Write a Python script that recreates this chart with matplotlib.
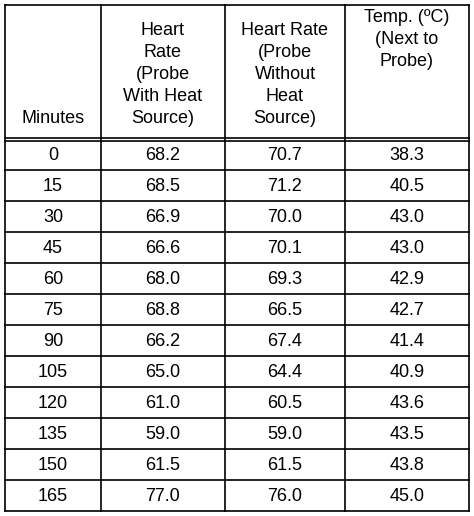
import matplotlib.pyplot as plt

plt.rcParams['font.family'] = ['Liberation Sans', 'DejaVu Sans']

headers = ["Minutes", "Heart\nRate\n(Probe\nWith Heat\nSource)",
           "Heart Rate\n(Probe\nWithout\nHeat\nSource)", "Temp. (ºC)\n(Next to\nProbe)"]
minutes = [0, 15, 30, 45, 60, 75, 90, 105, 120, 135, 150, 165]
hr_with = ["68.2", "68.5", "66.9", "66.6", "68.0", "68.8", "66.2", "65.0", "61.0", "59.0", "61.5", "77.0"]
hr_without = ["70.7", "71.2", "70.0", "70.1", "69.3", "66.5", "67.4", "64.4", "60.5", "59.0", "61.5", "76.0"]
temp = ["38.3", "40.5", "43.0", "43.0", "42.9", "42.7", "41.4", "40.9", "43.6", "43.5", "43.8", "45.0"]

W, H = 474, 516
col_x = [5, 101, 225, 345, 469]
top, head_bot, bottom = 5, 139, 511
row_h = (bottom - head_bot) / len(minutes)

fig = plt.figure(figsize=(W / 100, H / 100), dpi=100)
ax = fig.add_axes([0, 0, 1, 1])
ax.set_xlim(0, W)
ax.set_ylim(H, 0)
ax.axis('off')

lw = 1.2
for x in col_x:
    ax.plot([x, x], [top, bottom], color='black', lw=lw)
ax.plot([col_x[0], col_x[-1]], [top, top], color='black', lw=lw)
ax.plot([col_x[0], col_x[-1]], [head_bot - 1.5, head_bot - 1.5], color='black', lw=lw)
ax.plot([col_x[0], col_x[-1]], [head_bot + 1.5, head_bot + 1.5], color='black', lw=lw)
for i in range(1, len(minutes) + 1):
    y = head_bot + i * row_h
    ax.plot([col_x[0], col_x[-1]], [y, y], color='black', lw=lw)

fs = 13
ls = 1.38
for j, h in enumerate(headers):
    cx = (col_x[j] + col_x[j + 1]) / 2
    if j == 3:
        ax.text(cx, 9, h, ha='center', va='top', fontsize=fs, linespacing=ls)
    else:
        ax.text(cx, 127, h, ha='center', va='bottom', fontsize=fs, linespacing=ls)

for i in range(len(minutes)):
    cy = head_bot + (i + 0.5) * row_h
    vals = [str(minutes[i]), hr_with[i], hr_without[i], temp[i]]
    for j, v in enumerate(vals):
        cx = (col_x[j] + col_x[j + 1]) / 2
        ax.text(cx, cy + 1, v, ha='center', va='center', fontsize=fs)

fig.savefig('out.png', dpi=100)
